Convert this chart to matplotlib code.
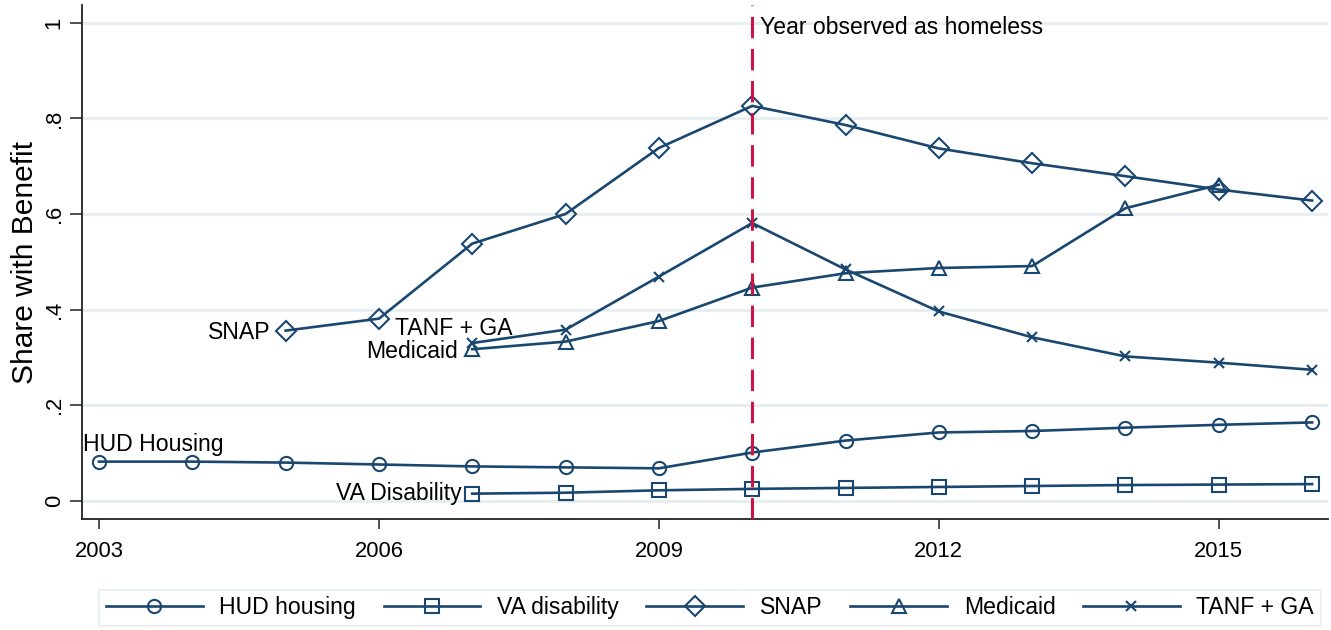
import matplotlib
matplotlib.use("Agg")
import matplotlib.pyplot as plt

plt.rcParams['font.family'] = ['Liberation Sans', 'DejaVu Sans']

# Benefit receipt shares by year
years_hud = [2003, 2004, 2005, 2006, 2007, 2008, 2009, 2010, 2011, 2012, 2013, 2014, 2015, 2016]
hud = [0.082, 0.082, 0.080, 0.076, 0.072, 0.070, 0.068, 0.101, 0.126, 0.143, 0.146, 0.153, 0.159, 0.164]

years_va = [2007, 2008, 2009, 2010, 2011, 2012, 2013, 2014, 2015, 2016]
va = [0.015, 0.017, 0.022, 0.025, 0.027, 0.029, 0.031, 0.033, 0.034, 0.035]

years_snap = [2005, 2006, 2007, 2008, 2009, 2010, 2011, 2012, 2013, 2014, 2015, 2016]
snap = [0.356, 0.381, 0.538, 0.600, 0.738, 0.826, 0.786, 0.737, 0.706, 0.679, 0.651, 0.628]

years_medicaid = [2007, 2008, 2009, 2010, 2011, 2012, 2013, 2014, 2015]
medicaid = [0.317, 0.333, 0.376, 0.446, 0.476, 0.487, 0.491, 0.612, 0.661]

years_tanf = [2007, 2008, 2009, 2010, 2011, 2012, 2013, 2014, 2015, 2016]
tanf = [0.330, 0.358, 0.469, 0.581, 0.484, 0.396, 0.342, 0.302, 0.289, 0.274]

homeless_year = 2010
x_ticks = [2003, 2006, 2009, 2012, 2015]
y_ticks = [0, 0.2, 0.4, 0.6, 0.8, 1.0]
y_tick_labels = ['0', '.2', '.4', '.6', '.8', '1']

NAVY = '#1a476f'
RED = '#cc1447'
GRID = '#e6eef1'
FS = 16.6
PX = 0.72  # points per pixel at 100 dpi

fig = plt.figure(figsize=(13.31, 6.30), dpi=100)
fig.patch.set_facecolor('white')
ax = fig.add_axes([82 / 1331, 1 - 519 / 630, (1328 - 82) / 1331, (519 - 5) / 630])

line_kw = dict(color=NAVY, lw=1.9, mew=1.5, mfc='none', mec=NAVY)
series = [
    ('HUD housing', years_hud, hud, 'o', 9.5),
    ('VA disability', years_va, va, 's', 9.5),
    ('SNAP', years_snap, snap, 'D', 10.5),
    ('Medicaid', years_medicaid, medicaid, '^', 10.5),
    ('TANF + GA', years_tanf, tanf, 'x', 7.5),
]
handles = []
for name, xs, ys, mk, ms in series:
    h, = ax.plot(xs, ys, marker=mk, ms=ms, label=name, zorder=3, **line_kw)
    handles.append(h)

# Vertical marker for the year of homelessness
ax.axvline(homeless_year, color=RED, lw=2.2, ls=(0, (7, 3.5)), zorder=4)
ax.annotate('Year observed as homeless', xy=(homeless_year, 0.989), xytext=(8 * PX, 0),
            textcoords='offset points', ha='left', va='center', fontsize=FS, color='black')

# Series labels next to each first observation
lab_kw = dict(textcoords='offset points', fontsize=FS, color='black', va='center')
ax.annotate('SNAP', xy=(years_snap[0], snap[0]), xytext=(-15 * PX, -2 * PX), ha='right', **lab_kw)
ax.annotate('TANF + GA', xy=(years_tanf[0], tanf[0]), xytext=(-18 * PX, 15 * PX), ha='center', **lab_kw)
ax.annotate('Medicaid', xy=(years_medicaid[0], medicaid[0]), xytext=(-14 * PX, -2 * PX), ha='right', **lab_kw)
ax.annotate('VA Disability', xy=(years_va[0], va[0]), xytext=(-11 * PX, 0), ha='right', **lab_kw)
ax.annotate('HUD Housing', xy=(years_hud[0], hud[0]), xytext=(-16 * PX, 17 * PX), ha='left', **lab_kw)

ax.set_xlim(2002.818, 2016.17)
ax.set_ylim(-0.038, 1.037)
ax.set_xticks(x_ticks)
ax.set_xticklabels([str(t) for t in x_ticks], fontsize=15.8)
ax.set_yticks(y_ticks)
ax.set_yticklabels(y_tick_labels, fontsize=15.8, rotation=90, va='center')
ax.set_ylabel('Share with Benefit', fontsize=21.5, labelpad=3)

ax.grid(axis='y', color=GRID, lw=2.0, zorder=0)
ax.grid(axis='x', visible=False)
ax.set_axisbelow(True)
for s in ['top', 'right']:
    ax.spines[s].set_visible(False)
for s in ['left', 'bottom']:
    ax.spines[s].set_color('#222222')
    ax.spines[s].set_linewidth(1.3)
ax.tick_params(axis='y', direction='out', length=8.5, width=1.1, color='#222222', pad=4)
ax.tick_params(axis='x', direction='out', length=7.5, width=1.1, color='#222222', pad=8)

leg = fig.legend(handles=handles, loc='upper center', bbox_to_anchor=(710 / 1331, 1 - 578 / 630),
                 ncol=5, fontsize=FS, handlelength=4.2, handletextpad=0.72, columnspacing=1.2,
                 borderpad=0.3, frameon=True, fancybox=False)
leg.get_frame().set_edgecolor(GRID)
leg.get_frame().set_linewidth(1.5)

fig.savefig('out.png', dpi=100, facecolor='white')
